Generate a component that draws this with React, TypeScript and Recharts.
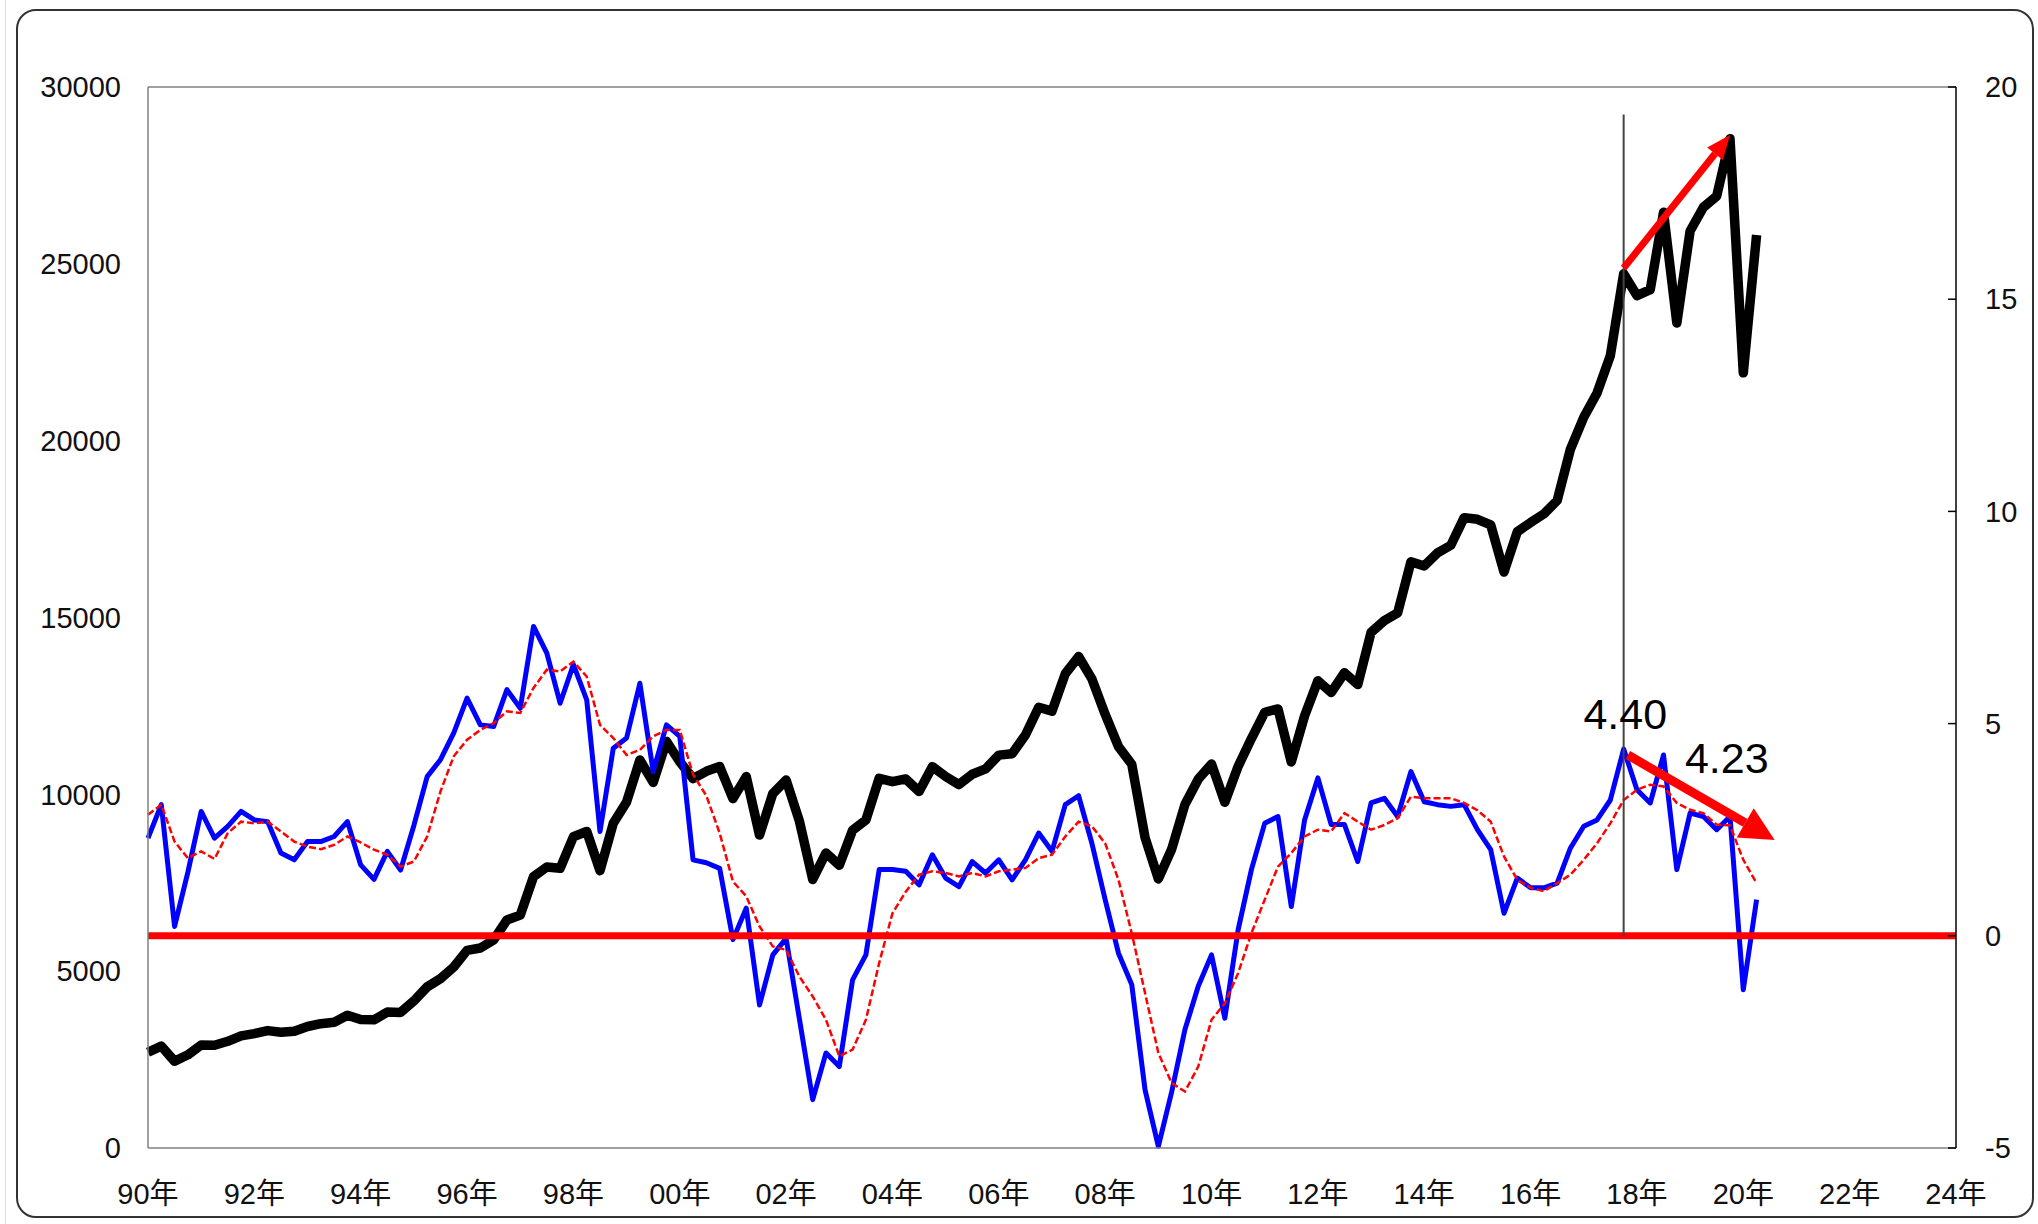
import React from "react";
import {
  LineChart,
  Line,
  XAxis,
  YAxis,
  ReferenceLine,
  ReferenceDot,
} from "recharts";

// quarterly series, 1990Q1 .. 2020Q2
const firstYear = 1990;
const quarterStep = 0.25;

// black line, left axis (quarter-end index level)
const indexLevel = [
  2707, 2881, 2453, 2634, 2914, 2907, 3017, 3169, 3236, 3319, 3272, 3301,
  3436, 3516, 3555, 3754, 3636, 3625, 3843, 3834, 4158, 4556, 4789, 5117,
  5587, 5655, 5882, 6448, 6584, 7673, 7945, 7908, 8800, 8952, 7843, 9181,
  9786, 10971, 10337, 11497, 10922, 10448, 10651, 10788, 9879, 10502, 8848, 10022,
  10404, 9243, 7592, 8342, 7992, 8985, 9275, 10454, 10358, 10435, 10080, 10783,
  10504, 10275, 10569, 10718, 11109, 11150, 11679, 12463, 12354, 13409, 13896, 13265,
  12263, 11350, 10851, 8776, 7609, 8447, 9712, 10428, 10857, 9774, 10788, 11578,
  12320, 12414, 10913, 12218, 13212, 12880, 13437, 13104, 14579, 14910, 15130, 16577,
  16458, 16827, 17043, 17823, 17776, 17620, 16285, 17425, 17685, 17930, 18308, 19763,
  20663, 21350, 22405, 24719, 24103, 24271, 26458, 23327, 25929, 26600, 26917, 28538,
  21917, 25813,
];

// blue line, right axis
const growth = [
  2.3, 3.09, 0.22, 1.5, 2.93, 2.3, 2.58, 2.93, 2.73, 2.69, 1.95, 1.79,
  2.22, 2.22, 2.34, 2.69, 1.67, 1.33, 1.99, 1.55, 2.6, 3.75, 4.15, 4.78,
  5.6, 4.97, 4.93, 5.8, 5.36, 7.29, 6.66, 5.48, 6.39, 5.56, 2.46, 4.42,
  4.66, 5.95, 3.87, 4.97, 4.7, 1.79, 1.72, 1.59, -0.09, 0.65, -1.63, -0.45,
  -0.06, -1.96, -3.86, -2.76, -3.08, -1.04, -0.45, 1.56, 1.56, 1.52, 1.2, 1.91,
  1.36, 1.16, 1.75, 1.48, 1.79, 1.32, 1.79, 2.42, 1.99, 3.09, 3.3, 2.18,
  0.85, -0.41, -1.15, -3.63, -4.96, -3.68, -2.21, -1.19, -0.45, -1.94, 0.14, 1.56,
  2.65, 2.81, 0.69, 2.73, 3.72, 2.62, 2.62, 1.75, 3.13, 3.24, 2.81, 3.87,
  3.16, 3.09, 3.05, 3.09, 2.5, 2.03, 0.53, 1.36, 1.13, 1.13, 1.24, 2.07,
  2.58, 2.73, 3.2, 4.4, 3.44, 3.13, 4.26, 1.56, 2.89, 2.81, 2.5, 2.81,
  -1.27, 0.85,
];

// red dashed line, right axis
const growthAvg = [
  2.85, 3.09, 2.22, 1.83, 1.99, 1.81, 2.42, 2.69, 2.65, 2.69, 2.46, 2.22,
  2.1, 2.04, 2.14, 2.34, 2.2, 2.03, 1.91, 1.63, 1.75, 2.34, 3.4, 4.23,
  4.62, 4.85, 5.01, 5.29, 5.25, 5.84, 6.27, 6.23, 6.46, 6.11, 4.97, 4.66,
  4.26, 4.38, 4.7, 4.85, 4.85, 3.8, 3.3, 2.42, 1.28, 0.93, 0.22, -0.25,
  -0.33, -0.96, -1.43, -1.98, -2.84, -2.68, -1.98, -0.64, 0.53, 1.04, 1.44, 1.52,
  1.48, 1.4, 1.48, 1.4, 1.52, 1.56, 1.6, 1.83, 1.91, 2.34, 2.69, 2.58,
  2.18, 1.32, 0.06, -1.35, -2.76, -3.47, -3.67, -3.08, -1.98, -1.59, -0.88, 0.06,
  0.85, 1.63, 1.95, 2.34, 2.5, 2.46, 2.89, 2.69, 2.5, 2.61, 2.77, 3.28,
  3.24, 3.24, 3.24, 3.13, 2.96, 2.69, 1.87, 1.32, 1.13, 1.05, 1.24, 1.44,
  1.79, 2.18, 2.65, 3.2, 3.44, 3.56, 3.52, 3.13, 2.97, 2.89, 2.62, 2.6,
  1.79, 1.24,
];

const yearTicks = [
  1990, 1992, 1994, 1996, 1998, 2000, 2002, 2004, 2006, 2008, 2010, 2012,
  2014, 2016, 2018, 2020, 2022, 2024,
];
const yearLabels = [
  "90年", "92年", "94年", "96年", "98年", "00年", "02年", "04年", "06年",
  "08年", "10年", "12年", "14年", "16年", "18年", "20年", "22年", "24年",
];
const leftTicks = [0, 5000, 10000, 15000, 20000, 25000, 30000];
const rightTicks = [-5, 0, 5, 10, 15, 20];

// annotation anchors (data coordinates)
const markerQuarter = 2017.75;
const upArrow = [
  { x: 2017.75, y: 24882 },
  { x: 2019.75, y: 28643 },
];
const downArrow = [
  { x: 2017.83, y: 4.26 },
  { x: 2020.59, y: 2.26 },
];
const notes = [
  { x: 2017.78, y: 5.23, text: "4.40" },
  { x: 2019.69, y: 4.19, text: "4.23" },
];

const data = indexLevel.map((v, i) => ({
  t: firstYear + i * quarterStep,
  level: v,
  growth: growth[i],
  growthAvg: growthAvg[i],
}));

const FONT = "'Liberation Sans', Arial, 'Noto Sans CJK SC', sans-serif";
const tickStyle = { fill: "#111", fontSize: 29, fontFamily: FONT };

const arrowShape =
  (width: number, headLen: number, headHalf: number) => (props: any) => {
    const { x1, y1, x2, y2 } = props;
    const dx = x2 - x1;
    const dy = y2 - y1;
    const len = Math.hypot(dx, dy) || 1;
    const ux = dx / len;
    const uy = dy / len;
    const bx = x2 - ux * headLen;
    const by = y2 - uy * headLen;
    const px = -uy;
    const py = ux;
    return (
      <g>
        <line x1={x1} y1={y1} x2={bx} y2={by} stroke="#FF0000" strokeWidth={width} />
        <polygon
          points={`${x2},${y2} ${bx + px * headHalf},${by + py * headHalf} ${bx - px * headHalf},${by - py * headHalf}`}
          fill="#FF0000"
        />
      </g>
    );
  };

const noteShape = (text: string) => (props: any) => (
  <text
    x={props.cx}
    y={props.cy}
    textAnchor="middle"
    dominantBaseline="central"
    fontSize={43}
    fontFamily={FONT}
    fill="#000"
  >
    {text}
  </text>
);

export default function App() {
  return (
    <div
      style={{
        position: "fixed",
        left: 0,
        top: 0,
        width: 2038,
        height: 1224,
        background: "#fff",
        overflow: "hidden",
      }}
    >
      <div
        style={{
          position: "absolute",
          left: 5,
          top: 0,
          width: 1,
          height: 1224,
          background: "#ddd",
        }}
      />
      <div
        style={{
          position: "absolute",
          left: 16,
          top: 9,
          width: 2018,
          height: 1209,
          boxSizing: "border-box",
          border: "2px solid #333",
          borderRadius: 20,
        }}
      />
      <div style={{ position: "absolute", left: 0, top: 0 }}>
        <LineChart
          width={2038}
          height={1224}
          data={data}
          margin={{ top: 87, right: 0, bottom: 0, left: 0 }}
        >
          <XAxis
            dataKey="t"
            type="number"
            domain={[1990, 2024]}
            ticks={yearTicks}
            interval={0}
            tickFormatter={(v) => yearLabels[yearTicks.indexOf(v)] ?? ""}
            height={76}
            tickLine={false}
            tickSize={0}
            tickMargin={35}
            axisLine={{ stroke: "#808080", strokeWidth: 1.5 }}
            tick={tickStyle}
          />
          <YAxis
            yAxisId="left"
            orientation="left"
            domain={[0, 30000]}
            ticks={leftTicks}
            interval={0}
            width={148}
            tickLine={false}
            tickSize={0}
            tickMargin={27}
            axisLine={{ stroke: "#808080", strokeWidth: 1.5 }}
            tick={tickStyle}
          />
          <YAxis
            yAxisId="right"
            orientation="right"
            domain={[-5, 20]}
            ticks={rightTicks}
            interval={0}
            width={82}
            tickSize={-8}
            tickMargin={37}
            tickLine={{ stroke: "#000", strokeWidth: 1.5 }}
            axisLine={{ stroke: "#000", strokeWidth: 1.5 }}
            tick={tickStyle}
          />
          <ReferenceLine
            yAxisId="left"
            y={30000}
            stroke="#808080"
            strokeWidth={1.5}
          />
          <Line
            yAxisId="left"
            type="linear"
            dataKey="level"
            stroke="#000"
            strokeWidth={9.5}
            strokeLinejoin="round"
            dot={false}
            activeDot={false}
            isAnimationActive={false}
          />
          <Line
            yAxisId="right"
            type="linear"
            dataKey="growth"
            stroke="#0000FF"
            strokeWidth={5}
            strokeLinejoin="round"
            dot={false}
            activeDot={false}
            isAnimationActive={false}
          />
          <Line
            yAxisId="right"
            type="linear"
            dataKey="growthAvg"
            stroke="#FF0000"
            strokeWidth={2.5}
            strokeDasharray="7 3"
            dot={false}
            activeDot={false}
            isAnimationActive={false}
          />
          <ReferenceLine yAxisId="right" y={0} stroke="#FF0000" strokeWidth={7} />
          <ReferenceLine
            yAxisId="right"
            segment={[
              { x: markerQuarter, y: 0 },
              { x: markerQuarter, y: 19.35 },
            ]}
            stroke="#444"
            strokeWidth={2}
          />
          <ReferenceLine
            yAxisId="left"
            segment={upArrow}
            shape={arrowShape(7, 24, 10)}
          />
          <ReferenceLine
            yAxisId="right"
            segment={downArrow}
            shape={arrowShape(9, 34, 17)}
          />
          {notes.map((n) => (
            <ReferenceDot
              key={n.text}
              yAxisId="right"
              x={n.x}
              y={n.y}
              r={0}
              shape={noteShape(n.text)}
            />
          ))}
        </LineChart>
      </div>
    </div>
  );
}
